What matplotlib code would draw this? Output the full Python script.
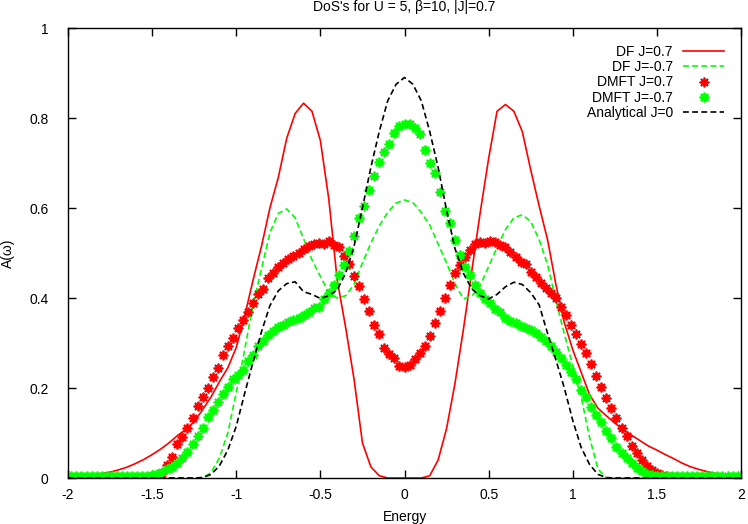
import numpy as np
import matplotlib
matplotlib.use("Agg")
import matplotlib.pyplot as plt

plt.rcParams['font.family'] = ['Liberation Sans', 'DejaVu Sans']

# energy grids
energy_df = np.round(np.linspace(-2, 2, 81), 2)          # step 0.05
energy_dmft = np.round(np.arange(-66, 67) * 0.03, 2)      # step 0.03

# DF J=0.7 (red solid)
df_jpos = [0.000, 0.002, 0.004, 0.007, 0.010, 0.013, 0.018, 0.024, 0.032, 0.041,
           0.052, 0.064, 0.078, 0.094, 0.108, 0.125, 0.152, 0.180, 0.214, 0.245,
           0.290, 0.360, 0.440, 0.515, 0.600, 0.668, 0.755, 0.810, 0.833, 0.815,
           0.750, 0.620, 0.440, 0.335, 0.220, 0.078, 0.025, 0.005, 0.000, 0.000,
           0.000,
           0.000, 0.000, 0.005, 0.040, 0.110, 0.210, 0.330, 0.460, 0.590, 0.710,
           0.815, 0.830, 0.815, 0.770, 0.685, 0.605, 0.530, 0.430, 0.345, 0.285,
           0.235, 0.185, 0.155, 0.138, 0.122, 0.108, 0.095, 0.083, 0.071, 0.062,
           0.052, 0.043, 0.033, 0.025, 0.019, 0.014, 0.010, 0.007, 0.005, 0.003]

# DF J=-0.7 (green dashed)
df_jneg = [0.0] * 17 + [
           0.012, 0.045, 0.100, 0.190, 0.285, 0.385, 0.465, 0.545, 0.588, 0.598,
           0.578, 0.532, 0.485, 0.448, 0.412, 0.400, 0.405, 0.430, 0.478, 0.522,
           0.560, 0.590, 0.611,
           0.618,
           0.612, 0.590, 0.562, 0.520, 0.478, 0.432, 0.398, 0.404, 0.428, 0.470,
           0.512, 0.552, 0.578, 0.585, 0.570, 0.530, 0.475, 0.395, 0.320, 0.250,
           0.180, 0.090, 0.020] + [0.0] * 17

# Analytical J=0 (black dashed)
analytic = [0.0] * 16 + [
            0.001, 0.008, 0.027, 0.062, 0.115, 0.188, 0.258, 0.325, 0.383, 0.416,
            0.432, 0.436, 0.414, 0.408, 0.399, 0.405, 0.418, 0.455, 0.515, 0.600,
            0.690, 0.770, 0.838, 0.875,
            0.890,
            0.875, 0.838, 0.770, 0.690, 0.595, 0.510, 0.455, 0.420, 0.405, 0.398,
            0.408, 0.425, 0.435, 0.430, 0.412, 0.385, 0.322, 0.262, 0.200, 0.128,
            0.068, 0.030, 0.008, 0.001] + [0.0] * 16

# DMFT J=0.7 (red points)
dmft_jpos = [0.001] * 15 + [
             0.001, 0.002, 0.004, 0.012, 0.028, 0.046, 0.075, 0.092, 0.111, 0.134,
             0.159, 0.181, 0.201, 0.225, 0.244, 0.274, 0.293, 0.311, 0.333, 0.352,
             0.368, 0.390, 0.410, 0.420, 0.444, 0.455, 0.470, 0.477, 0.486, 0.493,
             0.500, 0.508, 0.516, 0.521, 0.523, 0.521, 0.527, 0.518, 0.514, 0.493,
             0.476, 0.449, 0.427, 0.398, 0.371, 0.340, 0.319, 0.290, 0.275, 0.266,
             0.249,
             0.247,
             0.252, 0.265, 0.278, 0.293, 0.316, 0.344, 0.372, 0.399, 0.428, 0.455,
             0.473, 0.492, 0.507, 0.520, 0.525, 0.523, 0.527, 0.525, 0.518, 0.513,
             0.503, 0.492, 0.481, 0.476, 0.457, 0.447, 0.434, 0.423, 0.412, 0.400,
             0.381, 0.363, 0.341, 0.320, 0.297, 0.277, 0.253, 0.226, 0.203, 0.178,
             0.156, 0.134, 0.111, 0.093, 0.071, 0.055, 0.041, 0.027, 0.018, 0.012,
             0.007, 0.004, 0.003, 0.002] + [0.001] * 12

# DMFT J=-0.7 (green points)
dmft_jneg = [0.004] * 16 + [
             0.007, 0.010, 0.014, 0.019, 0.025, 0.034, 0.045, 0.058, 0.075, 0.094,
             0.112, 0.135, 0.151, 0.168, 0.186, 0.203, 0.220, 0.229, 0.241, 0.259,
             0.274, 0.293, 0.305, 0.317, 0.326, 0.335, 0.340, 0.347, 0.351, 0.355,
             0.362, 0.369, 0.377, 0.380, 0.397, 0.412, 0.429, 0.452, 0.474, 0.505,
             0.538, 0.577, 0.605, 0.640, 0.672, 0.702, 0.724, 0.743, 0.766, 0.783,
             0.786,
             0.787, 0.778, 0.764, 0.730, 0.700, 0.677, 0.636, 0.594, 0.566, 0.529,
             0.496, 0.470, 0.451, 0.429, 0.412, 0.398, 0.388, 0.376, 0.368, 0.356,
             0.350, 0.344, 0.338, 0.334, 0.328, 0.322, 0.314, 0.305, 0.294, 0.280,
             0.266, 0.251, 0.235, 0.219, 0.196, 0.179, 0.158, 0.140, 0.125, 0.105,
             0.088, 0.070, 0.055, 0.044, 0.033, 0.023, 0.015, 0.010, 0.007, 0.005] + [0.004] * 16

assert len(df_jpos) == len(df_jneg) == len(analytic) == len(energy_df)
assert len(dmft_jpos) == len(dmft_jneg) == len(energy_dmft)

xticks = [-2, -1.5, -1, -0.5, 0, 0.5, 1, 1.5, 2]
xticklabels = ['-2', '-1.5', '-1', '-0.5', '0', '0.5', '1', '1.5', '2']
yticks = [0, 0.2, 0.4, 0.6, 0.8, 1]
yticklabels = ['0', '0.2', '0.4', '0.6', '0.8', '1']

fig = plt.figure(figsize=(7.48, 5.24), dpi=100)
ax = fig.add_axes([68 / 748, 1 - 478 / 524, 673 / 748, 450 / 524])

star = (8, 2, 0)   # gnuplot-style "*" point
ax.plot(energy_df, df_jpos, color='#ff0000', lw=1.2, label='DF J=0.7')
ax.plot(energy_df, df_jneg, color='#00ff00', lw=1.2, dashes=(3.5, 2), label='DF J=-0.7')
ax.plot(energy_dmft, dmft_jpos, ls='none', marker=star, ms=7, mew=1.3,
        color='#ff0000', label='DMFT J=0.7')
ax.plot(energy_dmft, dmft_jneg, ls='none', marker=star, ms=7, mew=1.3,
        color='#00ff00', label='DMFT J=-0.7')
ax.plot(energy_df, analytic, color='black', lw=1.2, dashes=(3.5, 2), label='Analytical J=0')

ax.set_xlim(-2, 2)
ax.set_ylim(0, 1)
ax.set_xticks(xticks)
ax.set_xticklabels(xticklabels)
ax.set_yticks(yticks)
ax.set_yticklabels(yticklabels)
ax.tick_params(direction='in', length=6, width=1, top=True, right=True,
               labelsize=10, colors='black')
ax.tick_params(axis='y', pad=14)
ax.tick_params(axis='x', pad=7)
for s in ax.spines.values():
    s.set_linewidth(1)

ax.set_xlabel('Energy', fontsize=10, labelpad=6)
ax.set_ylabel('A(ω)', fontsize=10, labelpad=10)
ax.set_title("DoS's for U = 5, β=10, |J|=0.7", fontsize=10, pad=12)

ax.legend(loc='upper right', frameon=False, markerfirst=False, fontsize=10,
          handlelength=3.0, handletextpad=0.7, labelspacing=0.1,
          borderaxespad=1.0, borderpad=0.2, numpoints=1)

fig.savefig('out.png', dpi=100)
